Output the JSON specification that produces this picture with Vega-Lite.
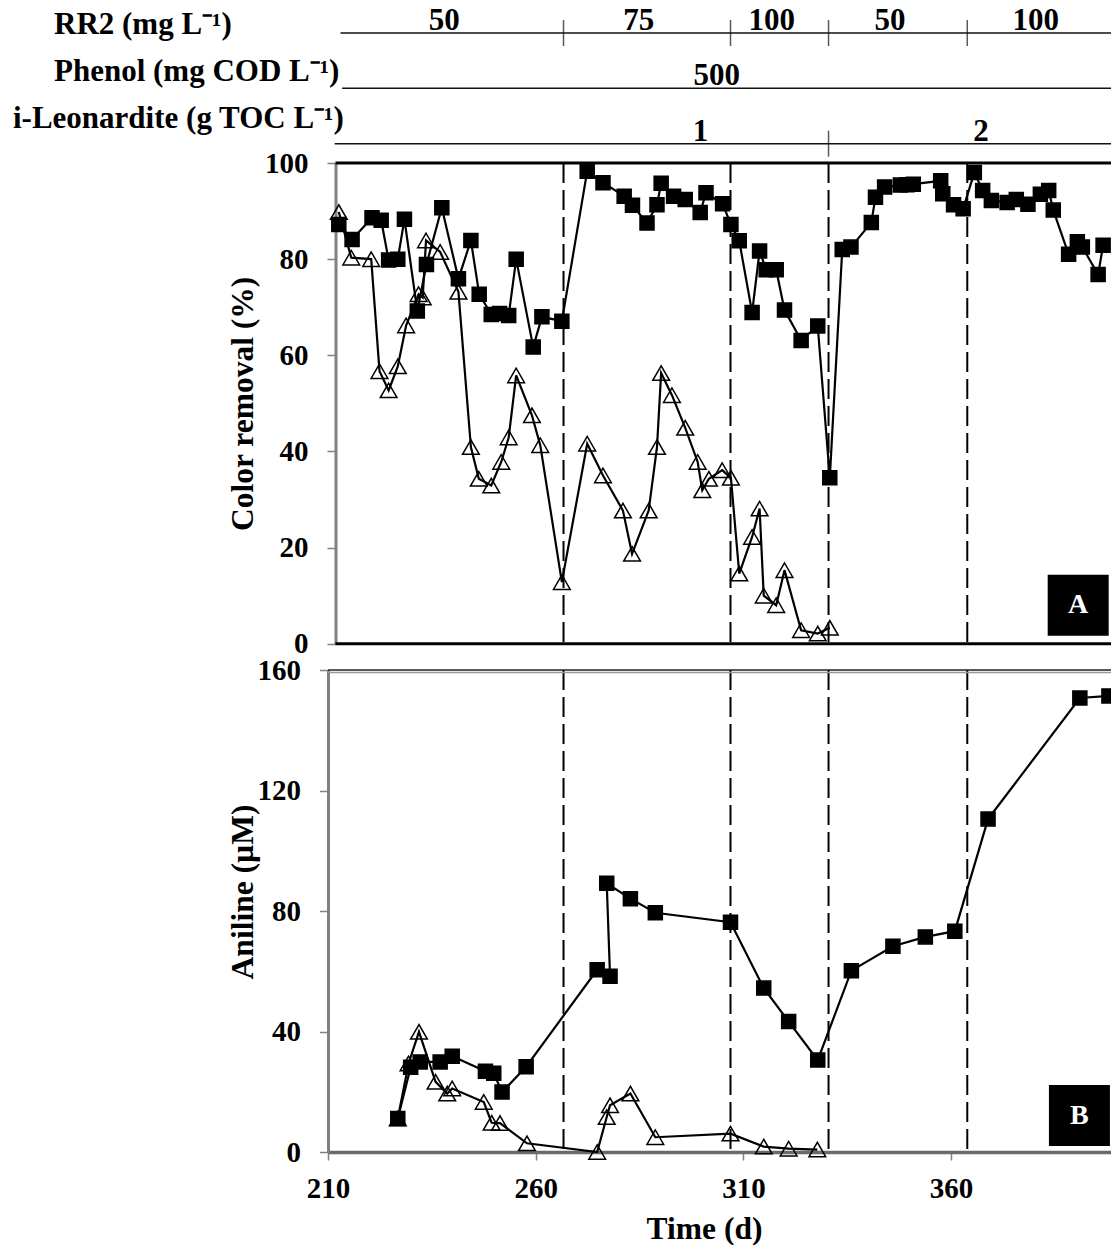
{
  "$schema": "https://vega.github.io/schema/vega-lite/v6.json",
  "padding": {"left": 12, "top": 5, "right": 0, "bottom": 0},
  "spacing": 26,
  "bounds": "flush",
  "config": {
    "view": {"stroke": null},
    "font": "Liberation Serif",
    "axis": {"labelFont": "Liberation Serif", "titleFont": "Liberation Serif", "labelFontWeight": "bold", "titleFontWeight": "bold", "labelColor": "black", "titleColor": "black", "grid": false},
    "text": {"font": "Liberation Serif", "fontWeight": "bold", "color": "black"}
  },
  "datasets": {
    "boundaries": [{"day": 266.7}, {"day": 306.9}, {"day": 330.5}, {"day": 363.9}],
    "headerLines": [
      {"row": "RR2 (mg L⁻¹)", "start": 213.0, "end": 398.5},
      {"row": "Phenol (mg COD L⁻¹)", "start": 213.4, "end": 398.5},
      {"row": "i-Leonardite (g TOC L⁻¹)", "start": 211.6, "end": 398.5}
    ],
    "headerTicks": [
      {"row": "RR2 (mg L⁻¹)", "day": 266.7},
      {"row": "RR2 (mg L⁻¹)", "day": 306.9},
      {"row": "RR2 (mg L⁻¹)", "day": 330.5},
      {"row": "RR2 (mg L⁻¹)", "day": 363.9},
      {"row": "i-Leonardite (g TOC L⁻¹)", "day": 330.5}
    ],
    "headerValues": [
      {"row": "RR2 (mg L⁻¹)", "day": 238.0, "label": "50"},
      {"row": "RR2 (mg L⁻¹)", "day": 284.8, "label": "75"},
      {"row": "RR2 (mg L⁻¹)", "day": 316.8, "label": "100"},
      {"row": "RR2 (mg L⁻¹)", "day": 345.3, "label": "50"},
      {"row": "RR2 (mg L⁻¹)", "day": 380.4, "label": "100"},
      {"row": "Phenol (mg COD L⁻¹)", "day": 303.6, "label": "500"},
      {"row": "i-Leonardite (g TOC L⁻¹)", "day": 299.7, "label": "1"},
      {"row": "i-Leonardite (g TOC L⁻¹)", "day": 367.2, "label": "2"}
    ],
    "colorData": [
      {"series": "R2", "day": 212.6, "value": 89.8},
      {"series": "R2", "day": 215.6, "value": 80.3},
      {"series": "R2", "day": 220.4, "value": 80.0},
      {"series": "R2", "day": 222.4, "value": 56.7},
      {"series": "R2", "day": 224.6, "value": 52.7},
      {"series": "R2", "day": 226.8, "value": 57.7},
      {"series": "R2", "day": 228.8, "value": 66.2},
      {"series": "R2", "day": 231.8, "value": 72.7},
      {"series": "R2", "day": 232.8, "value": 72.0},
      {"series": "R2", "day": 233.6, "value": 83.9},
      {"series": "R2", "day": 237.0, "value": 81.5},
      {"series": "R2", "day": 241.4, "value": 73.2},
      {"series": "R2", "day": 244.4, "value": 40.9},
      {"series": "R2", "day": 246.3, "value": 34.3},
      {"series": "R2", "day": 249.3, "value": 32.9},
      {"series": "R2", "day": 251.7, "value": 37.8},
      {"series": "R2", "day": 253.5, "value": 42.9},
      {"series": "R2", "day": 255.3, "value": 55.8},
      {"series": "R2", "day": 259.1, "value": 47.5},
      {"series": "R2", "day": 261.1, "value": 41.3},
      {"series": "R2", "day": 266.3, "value": 12.8},
      {"series": "R2", "day": 272.4, "value": 41.6},
      {"series": "R2", "day": 276.2, "value": 35.0},
      {"series": "R2", "day": 281.0, "value": 27.7},
      {"series": "R2", "day": 283.2, "value": 18.7},
      {"series": "R2", "day": 287.2, "value": 27.7},
      {"series": "R2", "day": 289.2, "value": 40.9},
      {"series": "R2", "day": 290.2, "value": 56.3},
      {"series": "R2", "day": 292.8, "value": 51.7},
      {"series": "R2", "day": 296.0, "value": 44.9},
      {"series": "R2", "day": 299.0, "value": 37.8},
      {"series": "R2", "day": 300.1, "value": 31.9},
      {"series": "R2", "day": 301.7, "value": 34.3},
      {"series": "R2", "day": 304.9, "value": 36.1},
      {"series": "R2", "day": 307.0, "value": 34.5},
      {"series": "R2", "day": 309.0, "value": 14.6},
      {"series": "R2", "day": 312.1, "value": 22.2},
      {"series": "R2", "day": 313.9, "value": 28.1},
      {"series": "R2", "day": 314.9, "value": 10.0},
      {"series": "R2", "day": 317.9, "value": 8.0},
      {"series": "R2", "day": 319.9, "value": 15.3},
      {"series": "R2", "day": 323.9, "value": 2.8},
      {"series": "R2", "day": 327.9, "value": 2.1},
      {"series": "R2", "day": 330.8, "value": 3.3},
      {"series": "R1", "day": 212.6, "value": 87.2},
      {"series": "R1", "day": 215.8, "value": 84.1},
      {"series": "R1", "day": 220.6, "value": 88.6},
      {"series": "R1", "day": 222.8, "value": 88.1},
      {"series": "R1", "day": 224.6, "value": 79.8},
      {"series": "R1", "day": 226.8, "value": 80.0},
      {"series": "R1", "day": 228.4, "value": 88.3},
      {"series": "R1", "day": 231.5, "value": 69.2},
      {"series": "R1", "day": 233.7, "value": 78.9},
      {"series": "R1", "day": 237.4, "value": 90.7},
      {"series": "R1", "day": 241.4, "value": 75.9},
      {"series": "R1", "day": 244.4, "value": 83.9},
      {"series": "R1", "day": 246.4, "value": 72.7},
      {"series": "R1", "day": 249.3, "value": 68.5},
      {"series": "R1", "day": 251.3, "value": 68.7},
      {"series": "R1", "day": 253.5, "value": 68.3},
      {"series": "R1", "day": 255.3, "value": 80.0},
      {"series": "R1", "day": 259.4, "value": 61.7},
      {"series": "R1", "day": 261.5, "value": 68.0},
      {"series": "R1", "day": 266.3, "value": 67.1},
      {"series": "R1", "day": 272.4, "value": 98.3},
      {"series": "R1", "day": 276.2, "value": 95.9},
      {"series": "R1", "day": 281.3, "value": 93.1},
      {"series": "R1", "day": 283.3, "value": 91.2},
      {"series": "R1", "day": 286.8, "value": 87.5},
      {"series": "R1", "day": 289.2, "value": 91.3},
      {"series": "R1", "day": 290.2, "value": 95.8},
      {"series": "R1", "day": 293.2, "value": 93.1},
      {"series": "R1", "day": 296.0, "value": 92.4},
      {"series": "R1", "day": 299.6, "value": 89.7},
      {"series": "R1", "day": 301.0, "value": 93.8},
      {"series": "R1", "day": 305.0, "value": 91.5},
      {"series": "R1", "day": 307.0, "value": 87.2},
      {"series": "R1", "day": 309.0, "value": 83.8},
      {"series": "R1", "day": 312.1, "value": 68.9},
      {"series": "R1", "day": 313.9, "value": 81.7},
      {"series": "R1", "day": 315.5, "value": 77.8},
      {"series": "R1", "day": 317.9, "value": 77.8},
      {"series": "R1", "day": 319.9, "value": 69.4},
      {"series": "R1", "day": 323.9, "value": 63.1},
      {"series": "R1", "day": 327.9, "value": 66.1},
      {"series": "R1", "day": 330.8, "value": 34.5},
      {"series": "R1", "day": 333.8, "value": 82.0},
      {"series": "R1", "day": 335.9, "value": 82.5},
      {"series": "R1", "day": 340.8, "value": 87.6},
      {"series": "R1", "day": 341.8, "value": 92.9},
      {"series": "R1", "day": 344.0, "value": 95.0},
      {"series": "R1", "day": 347.8, "value": 95.4},
      {"series": "R1", "day": 349.4, "value": 95.5},
      {"series": "R1", "day": 350.9, "value": 95.6},
      {"series": "R1", "day": 357.5, "value": 96.3},
      {"series": "R1", "day": 358.0, "value": 93.6},
      {"series": "R1", "day": 360.6, "value": 91.3},
      {"series": "R1", "day": 362.9, "value": 90.5},
      {"series": "R1", "day": 365.6, "value": 98.0},
      {"series": "R1", "day": 367.6, "value": 94.3},
      {"series": "R1", "day": 369.7, "value": 92.2},
      {"series": "R1", "day": 373.5, "value": 91.8},
      {"series": "R1", "day": 375.7, "value": 92.4},
      {"series": "R1", "day": 378.5, "value": 91.4},
      {"series": "R1", "day": 381.5, "value": 93.5},
      {"series": "R1", "day": 383.5, "value": 94.3},
      {"series": "R1", "day": 384.6, "value": 90.2},
      {"series": "R1", "day": 388.3, "value": 81.0},
      {"series": "R1", "day": 390.4, "value": 83.6},
      {"series": "R1", "day": 391.6, "value": 82.5},
      {"series": "R1", "day": 395.4, "value": 76.8},
      {"series": "R1", "day": 396.6, "value": 82.9}
    ],
    "anilineData": [
      {"series": "R2", "day": 226.8, "value": 11.1},
      {"series": "R2", "day": 229.4, "value": 29.4},
      {"series": "R2", "day": 231.9, "value": 39.9},
      {"series": "R2", "day": 235.9, "value": 23.3},
      {"series": "R2", "day": 238.7, "value": 19.4},
      {"series": "R2", "day": 239.9, "value": 21.1},
      {"series": "R2", "day": 247.5, "value": 16.6},
      {"series": "R2", "day": 249.4, "value": 9.7},
      {"series": "R2", "day": 251.4, "value": 9.6},
      {"series": "R2", "day": 257.9, "value": 2.9},
      {"series": "R2", "day": 274.8, "value": 0.0},
      {"series": "R2", "day": 277.1, "value": 11.6},
      {"series": "R2", "day": 277.9, "value": 15.5},
      {"series": "R2", "day": 282.8, "value": 19.4},
      {"series": "R2", "day": 288.8, "value": 4.9},
      {"series": "R2", "day": 306.9, "value": 6.1},
      {"series": "R2", "day": 314.9, "value": 1.8},
      {"series": "R2", "day": 320.9, "value": 1.1},
      {"series": "R2", "day": 327.8, "value": 0.8},
      {"series": "R1", "day": 226.8, "value": 11.1},
      {"series": "R1", "day": 229.9, "value": 28.1},
      {"series": "R1", "day": 232.2, "value": 29.9},
      {"series": "R1", "day": 237.0, "value": 29.9},
      {"series": "R1", "day": 239.9, "value": 31.8},
      {"series": "R1", "day": 247.9, "value": 26.8},
      {"series": "R1", "day": 249.9, "value": 26.1},
      {"series": "R1", "day": 251.9, "value": 19.9},
      {"series": "R1", "day": 257.7, "value": 28.3},
      {"series": "R1", "day": 274.8, "value": 60.5},
      {"series": "R1", "day": 277.9, "value": 58.3},
      {"series": "R1", "day": 277.1, "value": 89.2},
      {"series": "R1", "day": 282.8, "value": 84.1},
      {"series": "R1", "day": 288.8, "value": 79.4},
      {"series": "R1", "day": 306.9, "value": 76.3},
      {"series": "R1", "day": 314.9, "value": 54.4},
      {"series": "R1", "day": 320.9, "value": 43.3},
      {"series": "R1", "day": 327.9, "value": 30.5},
      {"series": "R1", "day": 336.0, "value": 60.2},
      {"series": "R1", "day": 346.0, "value": 68.3},
      {"series": "R1", "day": 353.8, "value": 71.4},
      {"series": "R1", "day": 360.9, "value": 73.3},
      {"series": "R1", "day": 368.9, "value": 110.5},
      {"series": "R1", "day": 391.0, "value": 150.7},
      {"series": "R1", "day": 398.0, "value": 151.4}
    ]
  },
  "vconcat": [
    {
      "width": 783,
      "height": 103.3,
      "layer": [
        {
          "data": {"name": "headerLines"},
          "mark": {"type": "rule", "color": "#111", "strokeWidth": 1.5},
          "encoding": {
            "x": {"field": "start", "type": "quantitative", "scale": {"domain": [210, 398.5], "nice": false, "zero": false}, "axis": null},
            "x2": {"field": "end"},
            "y": {
              "field": "row", "type": "nominal",
              "scale": {"type": "point", "domain": ["RR2 (mg L⁻¹)", "Phenol (mg COD L⁻¹)", "i-Leonardite (g TOC L⁻¹)"], "range": [0, 110.7], "padding": 0},
              "axis": {
                "title": null, "ticks": false, "domain": false,
                "labelFontSize": 31, "labelAlign": "left", "labelBaseline": "alphabetic", "labelLimit": 500,
                "labelPadding": {"condition": {"test": "datum.value === 'i-Leonardite (g TOC L⁻¹)'", "value": 315.5}, "value": 274.5},
                "labelOffset": {"condition": [{"test": "datum.value === 'Phenol (mg COD L⁻¹)'", "value": -7.6}, {"test": "datum.value === 'i-Leonardite (g TOC L⁻¹)'", "value": -16}], "value": 0}
              }
            }
          }
        },
        {
          "data": {"name": "headerTicks"},
          "mark": {"type": "tick", "color": "#111", "thickness": 1.5, "size": 26, "orient": "vertical"},
          "encoding": {
            "x": {"field": "day", "type": "quantitative"},
            "y": {"field": "row", "type": "nominal"}
          }
        },
        {
          "data": {"name": "headerValues"},
          "mark": {"type": "text", "fontSize": 31, "fontWeight": "bold", "baseline": "alphabetic", "align": "center", "dy": -3, "color": "black"},
          "encoding": {
            "x": {"field": "day", "type": "quantitative"},
            "y": {"field": "row", "type": "nominal"},
            "text": {"field": "label"}
          }
        }
      ]
    },
    {
      "width": 783,
      "height": 480.7,
      "layer": [
        {
          "data": {"name": "boundaries"},
          "mark": {"type": "rule", "color": "black", "strokeWidth": 2, "strokeDash": [20, 7], "y2Offset": 26},
          "encoding": {
            "x": {"field": "day", "type": "quantitative", "scale": {"domain": [210, 398.5], "nice": false, "zero": false}, "axis": null}
          }
        },
        {
          "data": {"name": "colorData"},
          "mark": {"type": "line", "color": "black", "strokeWidth": 2.2},
          "encoding": {
            "x": {"field": "day", "type": "quantitative"},
            "y": {
              "field": "value", "type": "quantitative",
              "scale": {"domain": [0, 100], "nice": false, "zero": false},
              "axis": {
                "values": [0, 20, 40, 60, 80, 100], "offset": -7.5,
                "domainColor": "#808080", "domainWidth": 3, "tickColor": "#808080", "tickWidth": 1.5, "tickSize": 8.5,
                "labelFontSize": 29, "labelPadding": 19,
                "title": "Color removal (%)", "titleFontSize": 31.5, "titleX": -83, "titleBaseline": "alphabetic"
              }
            },
            "detail": {"field": "series"},
            "order": {"value": null}
          }
        },
        {
          "data": {"name": "colorData"},
          "mark": {"type": "point", "stroke": "black", "strokeWidth": 1.5, "opacity": 1},
          "encoding": {
            "x": {"field": "day", "type": "quantitative"},
            "y": {"field": "value", "type": "quantitative"},
            "shape": {"field": "series", "type": "nominal", "scale": {"domain": ["R1", "R2"], "range": ["square", "triangle-up"]}, "legend": null},
            "fill": {"field": "series", "type": "nominal", "scale": {"domain": ["R1", "R2"], "range": ["black", "transparent"]}, "legend": null},
            "size": {"field": "series", "type": "nominal", "scale": {"domain": ["R1", "R2"], "range": [196, 280]}, "legend": null}
          }
        },
        {
          "data": {"values": [{}]},
          "mark": {"type": "rule", "color": "black", "strokeWidth": 3},
          "encoding": {
            "x": {"datum": 211.8, "type": "quantitative"},
            "x2": {"datum": 398.5},
            "y": {"datum": 100, "type": "quantitative"}
          }
        },
        {
          "data": {"values": [{}]},
          "mark": {"type": "rule", "color": "black", "strokeWidth": 3},
          "encoding": {
            "x": {"datum": 211.8, "type": "quantitative"},
            "x2": {"datum": 398.5},
            "y": {"datum": 0, "type": "quantitative"}
          }
        },
        {
          "data": {"values": [{}]},
          "mark": {"type": "point", "shape": "square", "size": 3721, "filled": true, "color": "black", "opacity": 1},
          "encoding": {
            "x": {"datum": 390.6, "type": "quantitative"},
            "y": {"datum": 8.0, "type": "quantitative"}
          }
        },
        {
          "data": {"values": [{}]},
          "mark": {"type": "text", "text": "A", "color": "white", "fontSize": 28, "fontWeight": "bold", "baseline": "middle", "align": "center"},
          "encoding": {
            "x": {"datum": 390.6, "type": "quantitative"},
            "y": {"datum": 8.0, "type": "quantitative"}
          }
        }
      ]
    },
    {
      "width": 783,
      "height": 482,
      "layer": [
        {
          "data": {"name": "boundaries"},
          "mark": {"type": "rule", "color": "black", "strokeWidth": 2, "strokeDash": [20, 7]},
          "encoding": {
            "x": {
              "field": "day", "type": "quantitative",
              "scale": {"domain": [210, 398.5], "nice": false, "zero": false},
              "axis": {
                "values": [210, 260, 310, 360], "labelFlush": false, "labelOverlap": false,
                "domainColor": "#6a6a6a", "domainWidth": 3.5, "tickColor": "#808080", "tickWidth": 1.5, "tickSize": 8,
                "labelFontSize": 29, "labelBaseline": "alphabetic", "labelPadding": 37.5,
                "title": "Time (d)", "titleFontSize": 31.5, "titleX": 376, "titleY": 86.5, "titleBaseline": "alphabetic"
              }
            }
          }
        },
        {
          "data": {"name": "anilineData"},
          "mark": {"type": "line", "color": "black", "strokeWidth": 2.2},
          "encoding": {
            "x": {"field": "day", "type": "quantitative"},
            "y": {
              "field": "value", "type": "quantitative",
              "scale": {"domain": [0, 160], "nice": false, "zero": false},
              "axis": {
                "values": [0, 40, 80, 120, 160],
                "domainColor": "#808080", "domainWidth": 3, "tickColor": "#808080", "tickWidth": 1.5, "tickSize": 8.5,
                "labelFontSize": 29, "labelPadding": 19,
                "title": "Aniline (µM)", "titleFontSize": 31.5, "titleX": -75.6, "titleY": 221.5, "titleBaseline": "alphabetic"
              }
            },
            "detail": {"field": "series"},
            "order": {"value": null}
          }
        },
        {
          "data": {"name": "anilineData"},
          "mark": {"type": "point", "stroke": "black", "strokeWidth": 1.5, "opacity": 1},
          "encoding": {
            "x": {"field": "day", "type": "quantitative"},
            "y": {"field": "value", "type": "quantitative"},
            "shape": {"field": "series", "type": "nominal", "scale": {"domain": ["R1", "R2"], "range": ["square", "triangle-up"]}, "legend": null},
            "fill": {"field": "series", "type": "nominal", "scale": {"domain": ["R1", "R2"], "range": ["black", "transparent"]}, "legend": null},
            "size": {"field": "series", "type": "nominal", "scale": {"domain": ["R1", "R2"], "range": [196, 280]}, "legend": null}
          }
        },
        {
          "data": {"values": [{}]},
          "mark": {"type": "rule", "color": "#222", "strokeWidth": 1.5},
          "encoding": {
            "x": {"datum": 210, "type": "quantitative"},
            "x2": {"datum": 398.5},
            "y": {"datum": 160, "type": "quantitative"}
          }
        },
        {
          "data": {"values": [{}]},
          "mark": {"type": "rule", "color": "#999", "strokeWidth": 1.5, "yOffset": 2.5},
          "encoding": {
            "x": {"datum": 210, "type": "quantitative"},
            "x2": {"datum": 398.5},
            "y": {"datum": 160, "type": "quantitative"}
          }
        },
        {
          "data": {"values": [{}]},
          "mark": {"type": "point", "shape": "square", "size": 3721, "filled": true, "color": "black", "opacity": 1},
          "encoding": {
            "x": {"datum": 390.9, "type": "quantitative"},
            "y": {"datum": 12.1, "type": "quantitative"}
          }
        },
        {
          "data": {"values": [{}]},
          "mark": {"type": "text", "text": "B", "color": "white", "fontSize": 28, "fontWeight": "bold", "baseline": "middle", "align": "center"},
          "encoding": {
            "x": {"datum": 390.9, "type": "quantitative"},
            "y": {"datum": 12.1, "type": "quantitative"}
          }
        }
      ]
    }
  ]
}
